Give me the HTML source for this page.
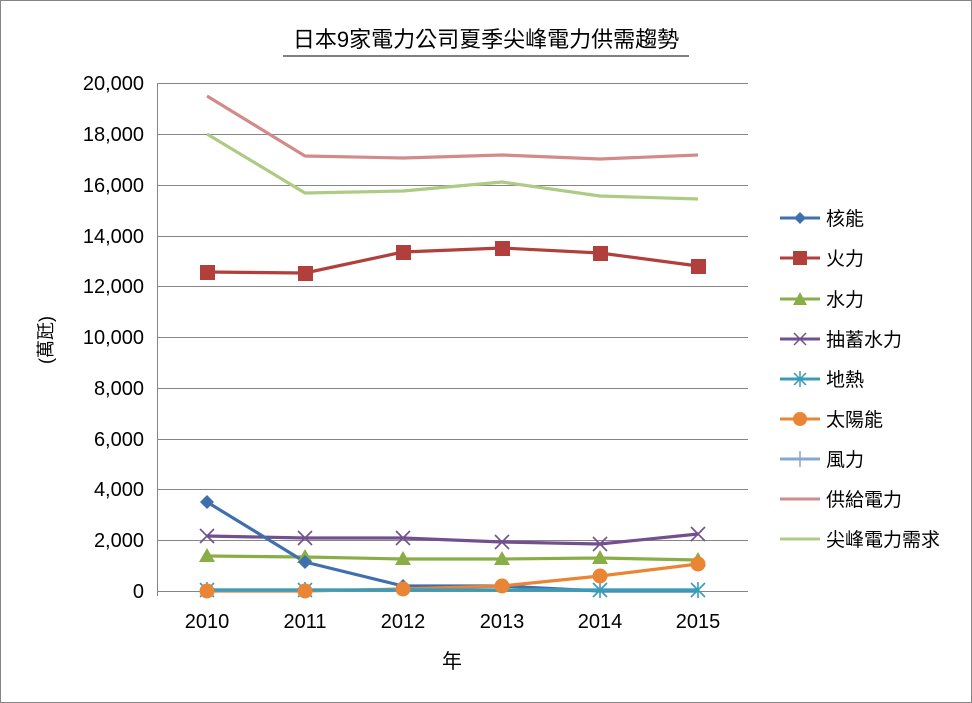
<!DOCTYPE html>
<html><head><meta charset="utf-8"><style>body{margin:0;background:#fff}svg{display:block}text{font-family:"Liberation Sans","Noto Sans CJK TC",sans-serif}</style></head><body>
<svg width="972" height="703" viewBox="0 0 972 703" xmlns="http://www.w3.org/2000/svg">
<rect x="0.5" y="0.5" width="971" height="702" fill="#fff" stroke="#868686"/>
<text x="486" y="47" font-size="22" text-anchor="middle" fill="#000">日本9家電力公司夏季尖峰電力供需趨勢</text>
<line x1="283" y1="56" x2="689" y2="56" stroke="#000" stroke-width="1"/>
<g stroke="#868686" stroke-width="1">
<line x1="157" y1="83.5" x2="748" y2="83.5"/><line x1="157" y1="134.5" x2="748" y2="134.5"/><line x1="157" y1="185.5" x2="748" y2="185.5"/><line x1="157" y1="236.5" x2="748" y2="236.5"/><line x1="157" y1="286.5" x2="748" y2="286.5"/><line x1="157" y1="337.5" x2="748" y2="337.5"/><line x1="157" y1="388.5" x2="748" y2="388.5"/><line x1="157" y1="439.5" x2="748" y2="439.5"/><line x1="157" y1="489.5" x2="748" y2="489.5"/><line x1="157" y1="540.5" x2="748" y2="540.5"/><line x1="157" y1="591.5" x2="748" y2="591.5"/>
<line x1="157.5" y1="83" x2="157.5" y2="596"/>
</g>
<g font-size="20" text-anchor="end" fill="#000">
<text x="144" y="90">20,000</text><text x="144" y="141">18,000</text><text x="144" y="192">16,000</text><text x="144" y="243">14,000</text><text x="144" y="293">12,000</text><text x="144" y="344">10,000</text><text x="144" y="395">8,000</text><text x="144" y="446">6,000</text><text x="144" y="496">4,000</text><text x="144" y="547">2,000</text><text x="144" y="598">0</text>
</g>
<g font-size="20" text-anchor="middle" fill="#000">
<text x="207" y="628">2010</text><text x="305" y="628">2011</text><text x="403" y="628">2012</text><text x="502" y="628">2013</text><text x="600" y="628">2014</text><text x="698" y="628">2015</text>
<text x="452" y="668">年</text>
</g>
<text transform="translate(52,340) rotate(-90)" font-size="18" text-anchor="middle">(萬瓩)</text>
<g fill="none" stroke-width="3.2" stroke-linejoin="round">
<polyline stroke="#d28b89" points="207,96 305,156 403,158 502,155 600,159 698,155"/>
<polyline stroke="#aecb84" points="207,134 305,193 403,191 502,182 600,196 698,199"/>
<polyline stroke="#b13f3c" points="207,272 305,273 403,252 502,248 600,253 698,266"/>
<polyline stroke="#72508f" points="207,536 305,538 403,538 502,542 600,544 698,534"/>
<polyline stroke="#8aae47" points="207,556 305,557 403,559 502,559 600,558 698,560"/>
<polyline stroke="#3f70ad" points="207,502 305,562 403,586 502,586 600,591 698,591"/>
<polyline stroke="#ea8535" points="207,591 305,591 403,589 502,586 600,576 698,564"/>
<polyline stroke="#88a8d0" points="207,590 305,590 403,590 502,590 600,590 698,590"/>
<polyline stroke="#3a9db8" points="207,590 305,590 403,590 502,590 600,590 698,590"/>
</g>
<g fill="#b13f3c"><rect x="200" y="265" width="15" height="15"/><rect x="298" y="266" width="15" height="15"/><rect x="396" y="245" width="15" height="15"/><rect x="495" y="241" width="15" height="15"/><rect x="593" y="246" width="15" height="15"/><rect x="691" y="259" width="15" height="15"/></g>
<g fill="#8aae47"><polygon points="207,548 215,562 199,562"/><polygon points="305,549 313,563 297,563"/><polygon points="403,551 411,565 395,565"/><polygon points="502,551 510,565 494,565"/><polygon points="600,550 608,564 592,564"/><polygon points="698,552 706,566 690,566"/></g>
<g stroke="#72508f" stroke-width="1.6"><path d="M200,529l14,14M214,529l-14,14M298,531l14,14M312,531l-14,14M396,531l14,14M410,531l-14,14M495,535l14,14M509,535l-14,14M593,537l14,14M607,537l-14,14M691,527l14,14M705,527l-14,14"/></g>
<g fill="#3f70ad"><polygon points="207,495 214,502 207,509 200,502"/><polygon points="305,555 312,562 305,569 298,562"/><polygon points="403,579 410,586 403,593 396,586"/><polygon points="502,579 509,586 502,593 495,586"/></g>
<g stroke="#3a9db8" stroke-width="1.6"><path d="M200,583l14,14M214,583l-14,14M298,583l14,14M312,583l-14,14M593,583l14,14M607,583l-14,14M691,583l14,14M705,583l-14,14M207,582v16M305,582v16M600,582v16M698,582v16"/></g>
<g fill="#ea8535"><circle cx="207" cy="591" r="7.5"/><circle cx="305" cy="591" r="7.5"/><circle cx="403" cy="589" r="7.5"/><circle cx="502" cy="586" r="7.5"/><circle cx="600" cy="576" r="7.5"/><circle cx="698" cy="564" r="7.5"/></g>
<g font-size="19" fill="#000">
<line x1="780" y1="218" x2="820" y2="218" stroke="#3f70ad" stroke-width="3"/><polygon points="800,212 806,218 800,224 794,218" fill="#3f70ad"/><text x="826" y="225">核能</text>
<line x1="780" y1="258" x2="820" y2="258" stroke="#b13f3c" stroke-width="3"/><rect x="793" y="251" width="14" height="14" fill="#b13f3c"/><text x="826" y="265">火力</text>
<line x1="780" y1="299" x2="820" y2="299" stroke="#8aae47" stroke-width="3"/><polygon points="800,292 807,305 793,305" fill="#8aae47"/><text x="826" y="306">水力</text>
<line x1="780" y1="339" x2="820" y2="339" stroke="#72508f" stroke-width="3"/><path d="M794,333l12,12M806,333l-12,12" stroke="#72508f" stroke-width="1.5"/><text x="826" y="346">抽蓄水力</text>
<line x1="780" y1="379" x2="820" y2="379" stroke="#3a9db8" stroke-width="3"/><path d="M794,373l12,12M806,373l-12,12M800,371v16" stroke="#3a9db8" stroke-width="1.5"/><text x="826" y="386">地熱</text>
<line x1="780" y1="419" x2="820" y2="419" stroke="#ea8535" stroke-width="3"/><circle cx="800" cy="419" r="7" fill="#ea8535"/><text x="826" y="426">太陽能</text>
<line x1="780" y1="459" x2="820" y2="459" stroke="#88a8d0" stroke-width="3"/><path d="M800,451v16" stroke="#88a8d0" stroke-width="1.5"/><text x="826" y="466">風力</text>
<line x1="780" y1="499" x2="820" y2="499" stroke="#d28b89" stroke-width="3"/><text x="826" y="506">供給電力</text>
<line x1="780" y1="539" x2="820" y2="539" stroke="#aecb84" stroke-width="3"/><text x="826" y="546">尖峰電力需求</text>
</g>
</svg>
</body></html>
